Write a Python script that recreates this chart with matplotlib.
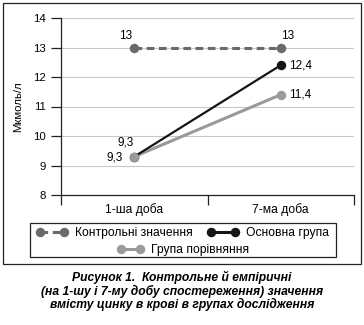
import matplotlib
matplotlib.use("Agg")
import matplotlib.pyplot as plt
from matplotlib.lines import Line2D
from matplotlib.patches import Rectangle

plt.rcParams['font.family'] = ['Liberation Sans', 'DejaVu Sans']

categories = ["1-ша доба", "7-ма доба"]
control = [13, 13]
main_group = [9.3, 12.4]
compare_group = [9.3, 11.4]
control_labels = ["13", "13"]
main_labels = ["9,3", "12,4"]
compare_labels = ["9,3", "11,4"]
legend_names = ["Контрольні значення", "Основна група", "Група порівняння"]
y_label = "Мкмоль/л"
caption = ("Рисунок 1.  Контрольне й емпіричні\n"
           "(на 1-шу і 7-му добу спостереження) значення\n"
           "вмісту цинку в крові в групах дослідження")

W, H = 364, 325
fig = plt.figure(figsize=(W/100, H/100), dpi=100)

c_ctrl = "#6a6a6a"
c_main = "#151515"
c_cmp = "#9a9a9a"
ms = 5.8
dash = (0, (2.5, 1.5))

ax = fig.add_axes([61/W, 1-195/H, (354-61)/W, (195-18)/H])
x = [0.5, 1.5]
ax.plot(x, control, color=c_ctrl, lw=2.2, ls=dash, marker='o', ms=ms, zorder=3)
ax.plot(x, compare_group, color=c_cmp, lw=2.2, marker='o', ms=ms, zorder=3)
ax.plot(x, main_group, color=c_main, lw=1.6, marker='o', ms=ms, zorder=4)
ax.plot([x[0]], [compare_group[0]], color=c_cmp, marker='o', ms=ms, ls='none', zorder=5)

ax.set_xlim(0, 2)
ax.set_ylim(8, 14)
ax.set_yticks(range(8, 15))
ax.set_xticks([0, 1, 2])
ax.set_xticklabels([])
ax.set_xticks(x, minor=True)
ax.set_xticklabels(categories, minor=True)
ax.tick_params(axis='x', which='major', direction='out', length=7.3, width=0.9, color='#222222')
ax.tick_params(axis='x', which='minor', length=0, pad=5.5, labelsize=8.7)
ax.tick_params(axis='y', direction='out', length=7.5, width=0.9, labelsize=8.2, pad=3.3, color='#222222')
for s in ['top', 'right']:
    ax.spines[s].set_visible(False)
for s in ['left', 'bottom']:
    ax.spines[s].set_linewidth(0.9)
    ax.spines[s].set_color('#222222')
ax.grid(axis='y', color='#c8c8c8', lw=0.8)
ax.set_axisbelow(True)
ax.set_ylabel(y_label, fontsize=8.2, labelpad=7)

fs = 8.5
ax.annotate(control_labels[0], (x[0], control[0]), xytext=(-6, 8), textcoords='offset points', ha='center', va='center', fontsize=fs)
ax.annotate(control_labels[1], (x[1], control[1]), xytext=(5, 8), textcoords='offset points', ha='center', va='center', fontsize=fs)
ax.annotate(main_labels[1], (x[1], main_group[1]), xytext=(6, 0), textcoords='offset points', ha='left', va='center', fontsize=fs)
ax.annotate(compare_labels[1], (x[1], compare_group[1]), xytext=(6, 0), textcoords='offset points', ha='left', va='center', fontsize=fs)
ax.annotate(main_labels[0], (x[0], main_group[0]), xytext=(-6.5, 10), textcoords='offset points', ha='center', va='center', fontsize=fs)
ax.annotate(compare_labels[0], (x[0], compare_group[0]), xytext=(-8.5, -0.5), textcoords='offset points', ha='right', va='center', fontsize=fs)

h_ctrl = Line2D([], [], color=c_ctrl, lw=2.2, ls=dash, marker='o', ms=ms)
h_main = Line2D([], [], color=c_main, lw=2.2, marker='o', ms=ms)
h_cmp = Line2D([], [], color=c_cmp, lw=2.2, marker='o', ms=ms)

lfs = 8.7
leg1 = fig.legend([h_ctrl, h_main], legend_names[:2], ncol=2, frameon=False,
                  loc='center', bbox_to_anchor=(182.5/W, 1-233/H), fontsize=lfs,
                  numpoints=2, handlelength=2.6, handletextpad=0.6, columnspacing=1.2,
                  borderpad=0, borderaxespad=0)
leg2 = fig.legend([h_cmp], legend_names[2:], frameon=False,
                  loc='center', bbox_to_anchor=(183.5/W, 1-250/H), fontsize=lfs,
                  numpoints=2, handlelength=2.2, handletextpad=0.6,
                  borderpad=0, borderaxespad=0)

fig.patches.append(Rectangle((30/W, 1-257/H), (336-30)/W, (257-223)/H,
                             transform=fig.transFigure, fill=False, ec='#222222', lw=0.9))
fig.patches.append(Rectangle((3/W, 1-264/H), (361-3)/W, (264-3)/H,
                             transform=fig.transFigure, fill=False, ec='#222222', lw=0.9))

fig.text(0.5, 1-291/H, caption, ha='center', va='center', fontsize=8.7,
         fontweight='bold', fontstyle='italic', linespacing=1.08)

fig.savefig("out.png", dpi=100)
